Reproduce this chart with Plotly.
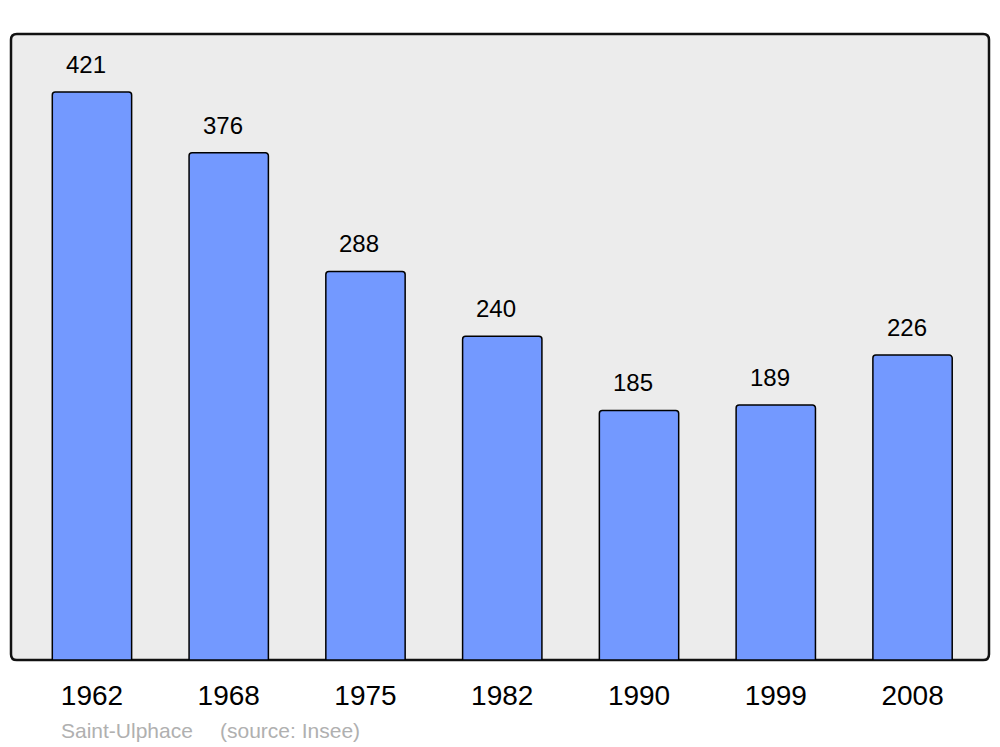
import plotly.graph_objects as go

years = ["1962", "1968", "1975", "1982", "1990", "1999", "2008"]
population = [421, 376, 288, 240, 185, 189, 226]
commune = "Saint-Ulphace"
source = "(source: Insee)"

W, H = 1000, 747
ml, mr, mt, mb = 11, 11, 34, 87
FONT = "Liberation Sans, Arial, sans-serif"
PW = W - ml - mr
PH = H - mt - mb

xpos = list(range(len(years)))

fig = go.Figure()
fig.add_trace(go.Bar(
    x=xpos, y=population, width=0.58,
    marker=dict(color="#7399ff", line=dict(color="#000000", width=1.5), cornerradius=3),
    hoverinfo="skip",
))

for x, v in zip(xpos, population):
    fig.add_annotation(x=x, y=v, text=str(v), showarrow=False, xref="x", yref="y",
                       yanchor="bottom", yshift=12, xshift=-6,
                       font=dict(family=FONT, size=24, color="#000000"))

foot_y = -(730 - (H - mb)) / PH
fig.add_annotation(x=(59 - ml) / PW, y=foot_y, xref="paper", yref="paper",
                   text=commune, showarrow=False, xanchor="left", yanchor="middle",
                   font=dict(family=FONT, size=21, color="#b0b0b0"))
fig.add_annotation(x=(218 - ml) / PW, y=foot_y, xref="paper", yref="paper",
                   text=source, showarrow=False, xanchor="left", yanchor="middle",
                   font=dict(family=FONT, size=21, color="#b0b0b0"))

# rounded frame of plot area
rx = 0.006
ry = rx * PW / PH
path = (f"M {rx},0 L {1-rx},0 Q 1,0 1,{ry} L 1,{1-ry} Q 1,1 {1-rx},1 "
        f"L {rx},1 Q 0,1 0,{1-ry} L 0,{ry} Q 0,0 {rx},0 Z")
fig.add_shape(type="path", path=path, xref="x domain", yref="y domain",
              fillcolor="#ececec", line=dict(color="#111111", width=2.5), layer="below")

fig.update_layout(
    width=W, height=H,
    margin=dict(l=ml, r=mr, t=mt, b=mb),
    paper_bgcolor="#ffffff", plot_bgcolor="rgba(0,0,0,0)",
    showlegend=False,
    xaxis=dict(tickvals=xpos, ticktext=years, range=[-0.592, 6.559],
               showgrid=False, zeroline=False, showline=False,
               ticks="outside", ticklen=10, tickcolor="rgba(0,0,0,0)",
               tickfont=dict(family=FONT, size=28, color="#000000")),
    yaxis=dict(range=[0, 464], showgrid=False, zeroline=False, showline=False,
               showticklabels=False, ticks=""),
)

fig.write_html("out.html", config={"displayModeBar": False, "staticPlot": True},
               post_script="document.body.style.margin='0';document.body.style.overflow='hidden';")
